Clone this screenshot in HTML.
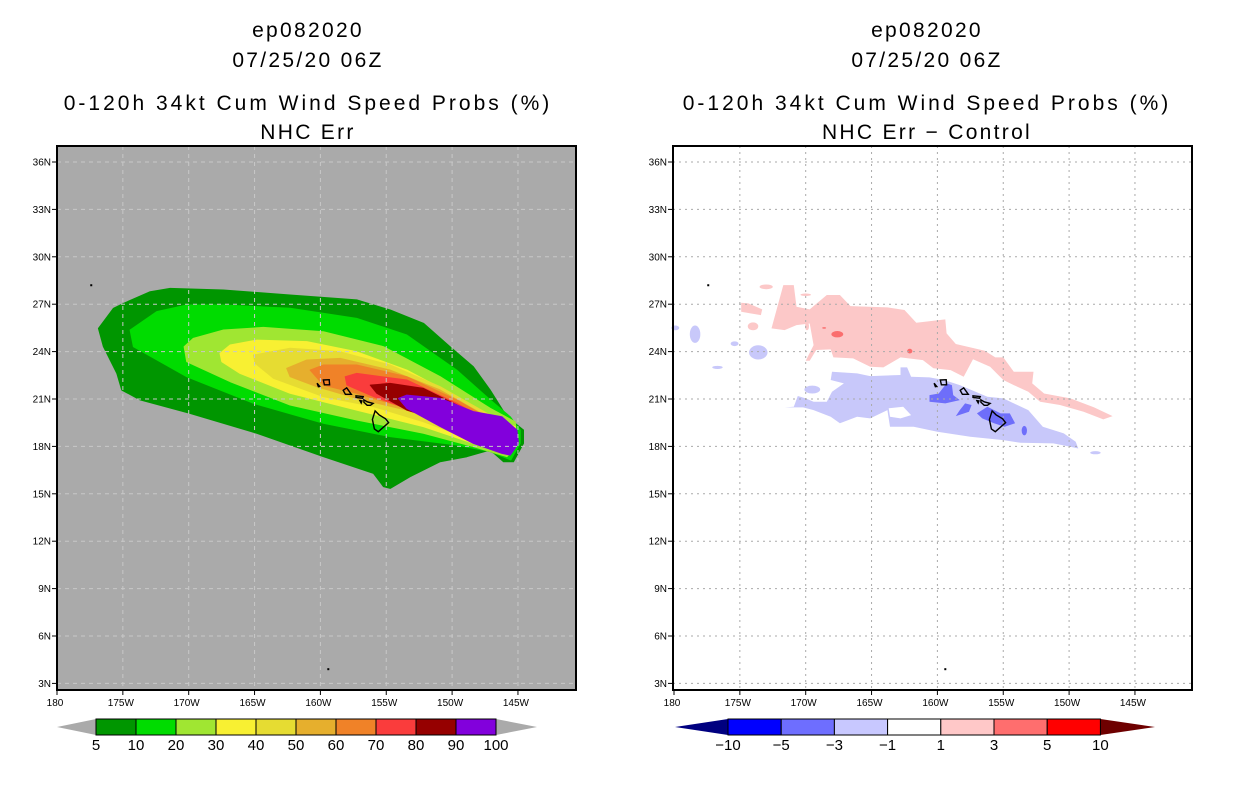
<!DOCTYPE html>
<html><head><meta charset="utf-8"><title>ep082020 wind speed probs</title>
<style>
html,body{margin:0;padding:0;background:#fff;}
svg{display:block;font-family:"Liberation Sans",sans-serif;}
.t{font-size:21px;letter-spacing:2.3px;text-anchor:middle;fill:#000;}
.tl{letter-spacing:3px;}
.tk{font-size:10px;fill:#000;}
.cb{font-size:15px;fill:#000;text-anchor:middle;}
</style></head>
<body>
<svg id="fig" width="1236" height="800" viewBox="0 0 1236 800" xmlns="http://www.w3.org/2000/svg">
<rect width="1236" height="800" fill="#fff"/>
<g>
<text class="t" x="308" y="37">ep082020</text>
<text class="t" x="308" y="67">07/25/20 06Z</text>
<text class="t tl" x="308" y="110">0-120h 34kt Cum Wind Speed Probs (%)</text>
<text class="t" x="308" y="139">NHC Err</text>
</g>
<g>
<text class="t" x="927" y="37">ep082020</text>
<text class="t" x="927" y="67">07/25/20 06Z</text>
<text class="t tl" x="927" y="110">0-120h 34kt Cum Wind Speed Probs (%)</text>
<text class="t" x="927" y="139">NHC Err − Control</text>
</g>
<g id="left"></g>
<g id="right"></g>
<g id="cbl"></g>
<g id="cbr"></g>
</svg>
<script>
// ---- data ----
const latTicks = [3,6,9,12,15,18,21,24,27,30,33,36];
const lonTicks = [180,175,170,165,160,155,150,145];
const lonTickLabels = ["180","175W","170W","165W","160W","155W","150W","145W"];
// probability contour levels (left), polygons as [lonW, lat]
const probLevels = [5,10,20,30,40,50,60,70,80,90];
const probColors = ["#009600","#00dc00","#a0e632","#f8f032","#e6dc32","#e6af2d","#f08228","#fa3c3c","#960000","#8200dc"];
const prob5 = [[176.86,25.47],[175.72,26.74],[174.96,27.05],[172.93,27.79],[171.41,28.0],[167.36,27.9],[162.3,27.58],[157.24,27.27],[154.7,26.63],[152.17,25.79],[150.15,24.31],[148.38,23.04],[147.11,21.57],[145.84,19.88],[144.58,19.04],[144.58,18.19],[145.34,17.03],[146.1,17.03],[147.11,17.77],[148.88,17.35],[150.9,17.03],[153.19,16.08],[154.7,15.34],[155.21,15.45],[155.97,16.29],[159.77,17.35],[164.83,18.83],[169.9,20.09],[173.69,20.94],[175.09,21.57],[175.46,22.62],[176.48,24.31]];
const prob10 = [[174.45,25.37],[172.43,26.53],[170.15,26.95],[167.36,26.95],[162.3,26.74],[157.24,26.1],[153.44,25.05],[149.64,22.83],[147.11,20.94],[145.59,19.88],[144.83,19.04],[144.83,18.19],[145.54,17.14],[147.11,17.67],[149.64,18.09],[154.7,18.62],[159.77,19.46],[165.08,20.73],[170.15,22.41],[174.2,24.31]];
const prob20 = [[170.35,24.31],[169.64,24.84],[167.36,25.37],[164.33,25.53],[159.77,25.26],[155.21,24.31],[150.9,22.41],[147.11,20.41],[145.21,19.56],[145.03,18.09],[145.84,17.35],[148.38,17.98],[152.17,18.83],[157.24,19.67],[162.3,20.62],[166.86,22.1],[170.15,23.36]];
const prob30 = [[167.62,23.89],[166.86,24.42],[164.83,24.73],[161.03,24.63],[157.24,23.99],[153.44,22.83],[149.64,21.15],[146.6,19.67],[145.21,19.25],[145.13,18.09],[145.84,17.56],[148.38,18.19],[152.17,19.25],[157.24,20.3],[162.3,21.36],[166.1,22.62],[167.49,23.36]];
const prob40 = [[165.08,23.78],[162.3,24.21],[158.5,23.99],[154.7,23.15],[150.9,21.78],[147.11,19.98],[145.34,19.14],[145.29,18.19],[145.97,17.67],[148.38,18.4],[152.17,19.56],[155.97,20.52],[159.77,21.15],[163.57,22.31],[164.96,23.26]];
const prob50 = [[162.56,22.94],[161.03,23.47],[158.5,23.57],[154.7,22.83],[150.9,21.57],[147.11,19.77],[145.46,19.04],[145.46,18.19],[146.1,17.77],[149.64,19.25],[153.44,20.3],[157.24,21.04],[160.28,21.78],[162.3,22.41]];
const prob60 = [[160.78,22.83],[159.77,23.15],[157.24,23.15],[153.44,22.41],[149.64,20.94],[146.6,19.46],[145.59,18.93],[145.59,18.19],[146.22,17.88],[149.64,19.25],[153.44,20.41],[157.24,21.36],[159.77,21.88]];
const prob70 = [[158.12,22.41],[157.24,22.62],[153.44,22.2],[149.64,20.73],[146.73,19.35],[145.72,18.83],[145.72,18.19],[146.35,17.98],[149.64,19.14],[153.44,20.41],[155.97,21.15],[157.99,21.88]];
const prob80 = [[156.22,21.88],[154.7,21.99],[152.17,21.67],[149.64,20.62],[146.86,19.25],[145.84,18.72],[145.84,18.19],[146.48,18.09],[148.38,18.62],[150.9,19.67],[153.44,20.3],[155.72,21.36]];
const prob90 = [[154.07,21.04],[153.44,21.25],[150.9,21.04],[148.38,20.2],[146.22,19.88],[145.08,19.04],[144.96,18.19],[145.59,17.45],[146.22,17.56],[148.38,18.19],[150.9,19.25],[153.44,20.41]];
const probShapes = [prob5,prob10,prob20,prob30,prob40,prob50,prob60,prob70,prob80,prob90];
// difference regions (right), [lonW, lat]
const pinkMain = [[172.6,25.47],[171.7,28.21],[170.9,28.21],[170.7,26.84],[169.7,26.67],[168.4,27.58],[167.4,27.58],[166.6,26.88],[163.8,26.8],[162.5,26.63],[161.6,25.83],[159.4,26.04],[159.3,25.15],[158.6,24.48],[156.4,24.05],[155.6,23.63],[155.0,23.63],[154.2,22.73],[152.7,22.73],[152.8,21.99],[151.9,21.35],[149.9,21.04],[148.1,20.47],[146.7,19.92],[147.4,19.71],[148.9,20.19],[150.7,20.62],[152.2,20.83],[153.1,21.46],[154.2,21.88],[155.0,22.2],[156.0,23.04],[157.3,23.51],[158.0,22.41],[159.0,22.83],[160.3,22.94],[161.1,23.46],[162.8,23.63],[164.1,23.0],[165.1,23.04],[166.4,23.57],[167.9,23.63],[168.1,24.14],[169.2,24.1],[169.7,23.42],[170.0,23.42],[169.4,24.41],[169.7,25.78],[170.7,25.68],[171.6,25.36]];
const pinkSmall = [[174.9,27.09],[174.35,27.05],[173.3,26.67],[173.4,26.31],[174.2,26.42],[174.9,26.52]];
const pinkBlobs = [[173.0,28.1,0.5,0.15],[174.0,25.6,0.4,0.25],[170.0,27.6,0.4,0.08],[169.9,25.6,0.15,0.25]];
const redBlobs = [[167.6,25.1,0.45,0.2],[162.1,24.03,0.2,0.15],[168.6,25.5,0.15,0.05]];
const blueMain = [[170.9,20.51],[170.6,21.19],[170.0,21.04],[169.4,20.83],[168.4,20.83],[168.0,21.46],[167.1,21.99],[168.1,22.2],[168.0,22.73],[166.1,22.62],[165.1,22.45],[162.8,22.52],[162.8,23.0],[162.3,23.0],[162.0,22.41],[160.6,22.37],[159.5,22.2],[158.3,21.88],[156.2,21.14],[155.0,21.04],[154.2,20.72],[153.1,20.3],[152.0,19.24],[150.4,18.82],[149.5,18.3],[149.3,17.87],[149.9,17.98],[151.2,18.19],[153.7,18.23],[155.0,18.4],[157.5,18.61],[160.0,18.93],[161.8,19.24],[163.6,19.24],[163.8,20.3],[165.1,19.77],[166.1,19.88],[167.4,19.46],[168.1,19.88],[169.4,20.3],[170.2,20.47],[171.6,20.47]];
const blueHole = [[163.7,20.41],[162.6,20.51],[162.0,19.98],[162.8,19.77],[163.6,19.88]];
const blueBlobs = [[169.5,21.6,0.6,0.25],[178.4,25.1,0.4,0.55],[173.6,23.95,0.7,0.45],[179.9,25.5,0.3,0.15],[175.4,24.5,0.3,0.15],[176.7,23.0,0.4,0.1],[148.0,17.6,0.4,0.1],[162.4,21.4,0.05,0.15]];
const darkBlue1 = [[160.6,21.25],[159.9,21.35],[159.3,21.99],[158.9,21.88],[158.8,21.25],[158.3,20.93],[159.4,20.72],[160.6,20.83]];
const darkBlue2 = [[157.9,20.72],[157.4,20.62],[157.6,20.19],[158.6,19.92],[158.3,20.3]];
const darkBlue3 = [[157.0,20.09],[156.2,20.51],[155.2,20.09],[154.5,20.09],[154.1,19.46],[154.9,19.24],[155.7,19.46],[156.6,19.77]];
const darkBlueBlobs = [[153.4,19.0,0.2,0.3]];
// islands
const islands = [
 [[155.85,20.25],[155.55,20.0],[155.05,19.75],[154.82,19.5],[155.6,18.93],[155.9,19.1],[156.05,19.7]],
 [[156.7,20.95],[156.45,20.82],[156.0,20.72],[156.2,20.6],[156.45,20.6],[156.7,20.8]],
 [[157.3,21.2],[156.75,21.15],[156.8,21.05],[157.3,21.1]],
 [[157.0,20.9],[156.85,20.88],[156.9,20.75]],
 [[158.27,21.55],[158.0,21.71],[157.65,21.3],[158.1,21.3]],
 [[159.78,22.2],[159.33,22.22],[159.3,21.9],[159.7,21.9]],
 [[160.25,22.0],[160.05,21.8],[160.15,21.78]]
];
const dots = [[177.4,28.2],[159.4,3.9]];
const rightLevels = ["−10","−5","−3","−1","1","3","5","10"];
const rightColors = ["#0000ff","#6e6eff","#c8c8ff","#ffffff","#ffc8c8","#ff6e6e","#ff0000"];

// ---- axes ----
const NS="http://www.w3.org/2000/svg";
const PY0=146, PY1=690, PH=544;
function yOf(lat){return 399-(lat-21)*15.8;}
function mk(tag,attrs,parent){const e=document.createElementNS(NS,tag);for(const k in attrs)e.setAttribute(k,attrs[k]);parent.appendChild(e);return e;}
function panel(gid,x0){
  const g=document.getElementById(gid);
  const xOf=lonW=>x0+(180-lonW)*13.17;
  const P=pts=>pts.map(p=>xOf(p[0]).toFixed(1)+","+yOf(p[1]).toFixed(1)).join(" ");
  return {g,xOf,P};
}
function ellipse(pn,b,fill,name){
  const e=mk("ellipse",{cx:pn.xOf(b[0]),cy:yOf(b[1]),rx:b[2]*13.17,ry:b[3]*15.8,fill:fill},pn.g);
  
  
}
function frame(pn,x0,grid,dash,gcol){
  for(let i=0;i<lonTicks.length;i++){
    const x=pn.xOf(lonTicks[i]);
    if(grid&&i>0){const l=mk("line",{x1:x,x2:x,y1:PY0,y2:PY1,stroke:gcol,"stroke-width":1,"stroke-dasharray":dash},pn.g);
      
      }
    const t=mk("line",{x1:x,x2:x,y1:PY1,y2:PY1+5,stroke:"#000"},pn.g);
    
    
    const lb=mk("text",{x:x-2,y:PY1+16,class:"tk","text-anchor":"middle"},pn.g);lb.textContent=lonTickLabels[i];
    
    
  }
  for(const la of latTicks){
    const y=yOf(la);
    if(grid){const l=mk("line",{x1:x0,x2:x0+519,y1:y,y2:y,stroke:gcol,"stroke-width":1,"stroke-dasharray":dash},pn.g);
      
      }
    const t=mk("line",{x1:x0-5,x2:x0,y1:y,y2:y,stroke:"#000"},pn.g);
    
    
    const lb=mk("text",{x:x0-6,y:y+3.5,class:"tk","text-anchor":"end"},pn.g);lb.textContent=la+"N";
    
    
  }
  const f=mk("rect",{x:x0,y:PY0,width:519,height:PH,fill:"none",stroke:"#000","stroke-width":2},pn.g);
  
  
}
function drawIslands(pn){
  for(const isl of islands){
    const p=mk("polygon",{points:pn.P(isl),fill:"none",stroke:"#000","stroke-width":1.4},pn.g);
    
    
  }
  for(const d of dots){
    const c=mk("rect",{x:pn.xOf(d[0])-1,y:yOf(d[1])-1,width:2,height:2,fill:"#000"},pn.g);
    
    
  }
}

// ---- left panel ----
(function(){
  const x0=57, pn=panel("left",x0);
  const bg=mk("rect",{x:x0,y:PY0,width:519,height:PH,fill:"#aaaaaa"},pn.g);
  
  
  for(let i=0;i<probLevels.length;i++){
    const poly=mk("polygon",{points:pn.P(probShapes[i]),fill:probColors[i],stroke:probColors[i],"stroke-width":1,"stroke-linejoin":"round"},pn.g);
    
    
  }
  frame(pn,x0,true,"4,4","#c8c8c8");
  drawIslands(pn);
})();

// ---- right panel ----
(function(){
  const x0=674, pn=panel("right",x0);
  const bg=mk("rect",{x:673,y:PY0,width:520,height:PH,fill:"#ffffff"},pn.g);
  
  
  const add=(pts,fill,name)=>{const p=mk("polygon",{points:pn.P(pts),fill:fill},pn.g);
    
    };
  add(pinkMain,"#fcc8c8","positive-diff-region");
  add(pinkSmall,"#fcc8c8","positive-diff-patch");
  for(const b of pinkBlobs) ellipse(pn,b,"#fcc8c8","positive-diff-patch");
  for(const b of redBlobs) ellipse(pn,b,"#fa6e6e","positive-diff-core");
  add(blueMain,"#c8c8fa","negative-diff-region");
  add(blueHole,"#ffffff","negative-diff-hole");
  for(const b of blueBlobs) ellipse(pn,b,"#c8c8fa","negative-diff-patch");
  add(darkBlue1,"#6e6efa","negative-diff-core");
  add(darkBlue2,"#6e6efa","negative-diff-core");
  add(darkBlue3,"#6e6efa","negative-diff-core");
  for(const b of darkBlueBlobs) ellipse(pn,b,"#6e6efa","negative-diff-core");
  frame(pn,673,true,"2,4","#aaaaaa");
  drawIslands(pn);
})();

// ---- colorbars ----
(function(){
  const g=document.getElementById("cbl"), x0=96, w=40, y0=719, h=16;
  const lt=mk("polygon",{points:`${x0},${y0} ${x0},${y0+h} 57,${y0+h/2}`,fill:"#aaaaaa"},g);
  
  
  const rt=mk("polygon",{points:`${x0+w*10},${y0} ${x0+w*10},${y0+h} 537,${y0+h/2}`,fill:"#aaaaaa"},g);
  
  
  for(let i=0;i<probColors.length;i++){
    const r=mk("rect",{x:x0+i*w,y:y0,width:w,height:h,fill:probColors[i],stroke:"#000","stroke-width":1},g);
    
    
  }
  const labs=probLevels.concat([100]);
  for(let i=0;i<labs.length;i++){
    const t=mk("text",{x:x0+i*w,y:y0+h+15,class:"cb"},g);t.textContent=labs[i];
    
    
  }
})();
(function(){
  const g=document.getElementById("cbr"), x0=728, w=53.2, y0=719, h=16, n=rightColors.length;
  const lt=mk("polygon",{points:`${x0},${y0} ${x0},${y0+h} 675,${y0+h/2}`,fill:"#000080"},g);
  
  
  const rt=mk("polygon",{points:`${x0+w*n},${y0} ${x0+w*n},${y0+h} 1155,${y0+h/2}`,fill:"#6e0000"},g);
  
  
  for(let i=0;i<n;i++){
    const r=mk("rect",{x:x0+i*w,y:y0,width:w,height:h,fill:rightColors[i],stroke:"#000","stroke-width":1},g);
    
    
  }
  for(let i=0;i<rightLevels.length;i++){
    const t=mk("text",{x:x0+i*w,y:y0+h+15,class:"cb"},g);t.textContent=rightLevels[i];
    
    
  }
})();
</script>
</body></html>
